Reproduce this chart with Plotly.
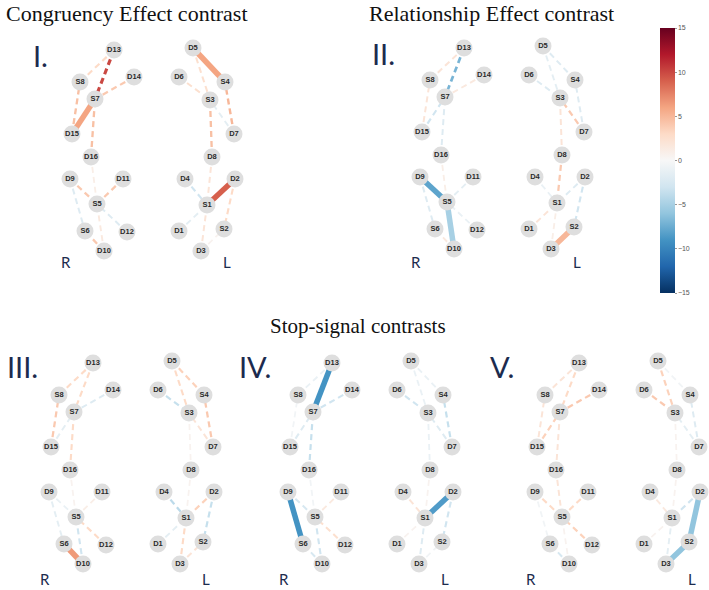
import plotly.graph_objects as go
from plotly.colors import sample_colorscale

# ---------------- data ----------------
# optode montage coordinates (panel-I frame, px)
node_names = ["D13", "S8", "D14", "S7", "D15", "D16", "D9", "D11", "S5", "S6", "D12", "D10",
              "D5", "D6", "S4", "S3", "D7", "D8", "D4", "D2", "S1", "D1", "S2", "D3"]
node_x = [114, 80, 134, 95, 72, 91, 70, 123, 97, 85, 127, 104,
          193, 179, 225, 210, 234, 212, 185, 235, 207, 179, 224, 201]
node_y = [50, 82, 77, 99, 134, 157, 179, 179, 204, 231, 232, 251,
          48, 77, 82, 100, 134, 157, 179, 179, 205, 231, 229, 251]

# channels (detector-source pairs)
edge_from = ["D13", "D13", "D14", "D15", "D15", "D16", "D16", "D9", "D11", "D9", "D12", "D10", "D10",
             "D5", "D5", "D6", "D7", "D7", "D8", "D8", "D4", "D2", "D2", "D1", "D3", "D3"]
edge_to = ["S8", "S7", "S7", "S8", "S7", "S7", "S5", "S5", "S5", "S6", "S5", "S5", "S6",
           "S4", "S3", "S3", "S4", "S3", "S3", "S1", "S1", "S1", "S2", "S1", "S1", "S2"]

panel_names = ["I.", "II.", "III.", "IV.", "V."]
values = {
    "I.":   [3, 10, 4, 4.5, 6, 4.5, 1, 4, 4, -2, -2, 1.5, 4,
             6, 2.5, 2.5, 5, -1.5, 4.5, 2, -3, 9, 3, -1.5, 2, 0.5],
    "II.":  [2, -7, 1.5, 2, -3, -2, 1, -8, -1.5, -2, -1, -5, 1.5,
             -2, -1.5, -2, -2, 4, 2, 4, -1, -2, -3, 2, 1, 5],
    "III.": [3, 3, -2, 4, -1.5, 3, 0.5, -1, 1, -1.5, 3, -3, 6.5,
             3.5, 3, -3.5, 4, 2, 0.5, 0.5, -4, 3.5, -3.5, -1.5, 3, 2],
    "IV.":  [-1, -9, -3, -0.5, -2, -3.5, -0.5, -2.5, 1.5, -9, 2.5, -3, -2.5,
             -1, -1, -3, -3.5, -2, -1, 0.5, 2, -8.5, -3, 0.5, -2, -0.5],
    "V.":   [2, 3, 4, 2, 3.5, 2, 2, 3, 3, -0.5, 3.5, 0.5, -2.5,
             -0.5, 3.5, 4, -2, -1.5, 0.5, 0.5, 1.5, -3, -6, 0.5, -1.5, -6],
}
significant = {
    "I.":   [0, 0, 0, 0, 1, 0, 0, 0, 0, 0, 0, 0, 0, 1, 0, 0, 0, 0, 0, 0, 0, 1, 0, 0, 0, 0],
    "II.":  [0, 0, 0, 0, 0, 0, 0, 1, 0, 0, 0, 1, 0, 0, 0, 0, 0, 0, 0, 0, 0, 0, 0, 0, 0, 1],
    "III.": [0, 0, 0, 0, 0, 0, 0, 0, 0, 0, 0, 0, 1, 0, 0, 0, 0, 0, 0, 0, 0, 0, 0, 0, 0, 0],
    "IV.":  [0, 1, 0, 0, 0, 0, 0, 0, 0, 1, 0, 0, 0, 0, 0, 0, 0, 0, 0, 0, 0, 1, 0, 0, 0, 0],
    "V.":   [0, 0, 0, 0, 0, 0, 0, 0, 0, 0, 0, 0, 0, 0, 0, 0, 0, 0, 0, 0, 0, 0, 1, 0, 0, 1],
}
colorbar_ticks = [-15, -10, -5, 0, 5, 10, 15]
section_titles = ["Congruency Effect contrast", "Relationship Effect contrast", "Stop-signal contrasts"]

# ---------------- layout helpers ----------------
panel_dx = {"I.": 0, "II.": 350, "III.": -21, "IV.": 218, "V.": 465}
panel_dy = {"I.": 0, "II.": -2, "III.": 313, "IV.": 313, "V.": 313}
label_dy = {"I.": 0, "II.": 0, "III.": 317, "IV.": 317, "V.": 317}
numeral_pos = {"I.": (40, 55), "II.": (383, 53), "III.": (22, 366), "IV.": (255, 366), "V.": (502, 366)}
title_pos = [(127, 13, 22), (491, 13, 22), (358, 326, 21)]

CMIN, CMAX = -15, 15
rdbu = ["#053061", "#2166ac", "#4393c3", "#92c5de", "#d1e5f0", "#f7f7f7",
        "#fddbc7", "#f4a582", "#d6604d", "#b2182b", "#67001f"]
cscale = [[i / 10, c] for i, c in enumerate(rdbu)]

pos = {n: (x, y) for n, x, y in zip(node_names, node_x, node_y)}

def col(v):
    t = (v - CMIN) / (CMAX - CMIN)
    return sample_colorscale(cscale, [min(max(t, 0), 1)])[0]

fig = go.Figure()
NAVY = "#1c2b4e"

for p in panel_names:
    dx, dy = panel_dx[p], panel_dy[p]
    vals, sig = values[p], significant[p]
    order = sorted(range(len(vals)), key=lambda i: (sig[i], abs(vals[i])))
    for i in order:
        a, b = pos[edge_from[i]], pos[edge_to[i]]
        v = vals[i]
        if sig[i]:
            line = dict(color=col(v), width=5.5)
        else:
            line = dict(color=col(v), width=1.7 + 0.14 * abs(v), dash="6px,4px")
        fig.add_trace(go.Scatter(x=[a[0] + dx, b[0] + dx], y=[a[1] + dy, b[1] + dy],
                                 mode="lines", line=line, hoverinfo="skip", showlegend=False))
    fig.add_trace(go.Scatter(
        x=[x + dx for x in node_x], y=[y + dy for y in node_y], text=node_names,
        mode="markers+text", textposition="middle center",
        marker=dict(size=17, color="#dedede", line=dict(width=0)),
        textfont=dict(size=7.5, color="#2a2a2a", family="Liberation Sans", weight="bold"),
        hoverinfo="skip", showlegend=False))
    fig.add_annotation(x=66 + dx, y=262 + label_dy[p], text="R", showarrow=False,
                       font=dict(size=15, color=NAVY, family="Lato"))
    fig.add_annotation(x=227 + dx, y=262 + label_dy[p], text="L", showarrow=False,
                       font=dict(size=15, color=NAVY, family="Lato"))
    nx, ny = numeral_pos[p]
    fig.add_annotation(x=nx, y=ny, text=p, showarrow=False,
                       font=dict(size=29, color=NAVY, family="Lato"))

# colour bar
fig.add_trace(go.Scatter(
    x=[None], y=[None], mode="markers", hoverinfo="skip", showlegend=False,
    marker=dict(color=[0], cmin=CMIN, cmax=CMAX, colorscale=cscale, showscale=True,
                colorbar=dict(x=660 / 709, xanchor="left", y=1 - 28 / 590, yanchor="top",
                              len=265 / 590, lenmode="fraction", thickness=15,
                              xpad=0, ypad=0, outlinewidth=0,
                              tickvals=colorbar_ticks, ticks="outside", ticklen=2,
                              tickcolor="#999", tickfont=dict(size=7, color="#555",
                                                              family="Liberation Sans")))))

for t, (tx, ty, ts) in zip(section_titles, title_pos):
    fig.add_annotation(x=tx, y=ty, text=t, showarrow=False,
                       font=dict(size=ts, color="#111", family="Liberation Serif"))

fig.update_layout(
    width=709, height=590, margin=dict(l=0, r=0, t=0, b=0, pad=0, autoexpand=False),
    paper_bgcolor="white", plot_bgcolor="white",
    xaxis=dict(range=[0, 709], visible=False, fixedrange=True),
    yaxis=dict(range=[590, 0], visible=False, fixedrange=True),
)
fig.write_html("out.html", config={"displayModeBar": False},
               post_script="document.body.style.margin='0';document.body.style.overflow='hidden';")
